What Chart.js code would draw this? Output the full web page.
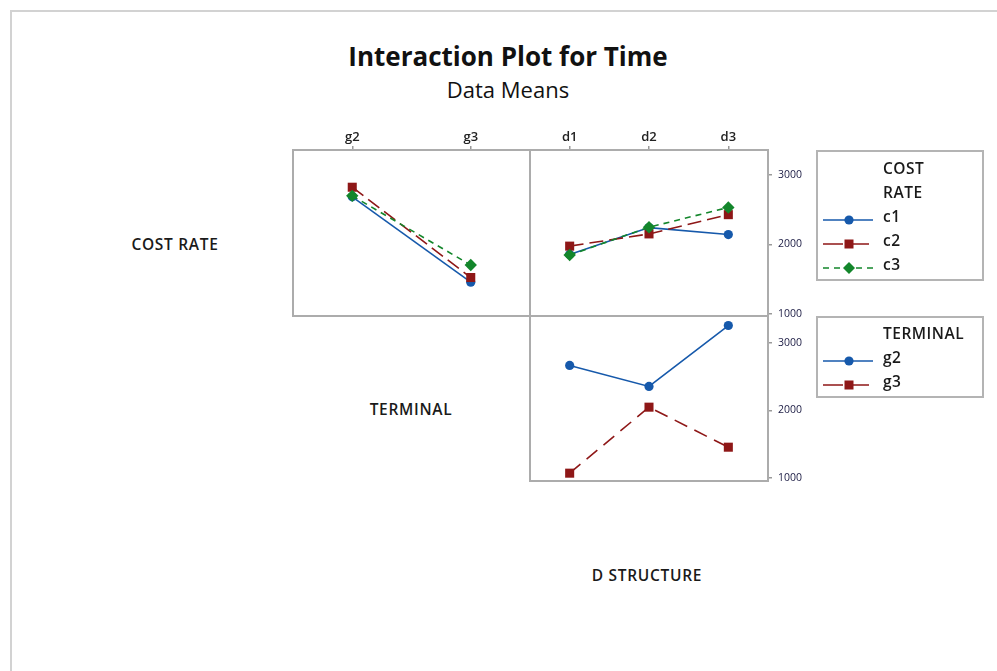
<!DOCTYPE html>
<html>
<head>
<meta charset="utf-8">
<script src="https://cdn.jsdelivr.net/npm/chart.js@4/dist/chart.umd.min.js"></script>
<style>
  html, body { margin:0; padding:0; background:#fff; }
  body { width:997px; height:671px; position:relative; overflow:hidden; font-family:"Open Sans","Noto Sans",sans-serif; color:#111; }
  .frameTop { position:absolute; left:10px; top:10px; width:987px; height:2px; background:#d2d2d2; }
  .frameLeft { position:absolute; left:10px; top:10px; width:2px; height:661px; background:#d2d2d2; }
  .lbl { position:absolute; white-space:nowrap; transform:translate(-50%,-50%); line-height:1; }
  .lftlbl { position:absolute; white-space:nowrap; transform:translateY(-50%); line-height:1; }
  .panel { position:absolute; }
  .legbox { position:absolute; border:2px solid #b4b4b4; box-sizing:border-box; }
  .sw { position:absolute; transform:translateY(-50%); }
  .row { font-size:15.5px; font-weight:600; letter-spacing:0.7px; color:#1a1a1a; }
</style>
</head>
<body>
<div class="frameTop"></div>
<div class="frameLeft"></div>

<div class="lbl" style="left:508px; top:56px; font-size:26px; font-weight:700;">Interaction Plot for Time</div>
<div class="lbl" style="left:508px; top:89px; font-size:22px;">Data Means</div>

<div class="lbl row" style="left:175px; top:245px;">COST RATE</div>
<div class="lbl row" style="left:411px; top:410px;">TERMINAL</div>
<div class="lbl row" style="left:647px; top:576px;">D STRUCTURE</div>

<div class="panel" id="p1wrap"><canvas id="p1"></canvas></div>
<div class="panel" id="p2wrap"><canvas id="p2"></canvas></div>
<div class="panel" id="p3wrap"><canvas id="p3"></canvas></div>

<div class="legbox" style="left:816px; top:150px; width:168px; height:131px;"></div>
<div class="legbox" style="left:816px; top:316px; width:168px; height:82px;"></div>
<div id="legends"></div>

<script>
// ---------- data ----------
const terminalLevels = ['g2', 'g3'];
const structureLevels = ['d1', 'd2', 'd3'];
const costRateLevels = ['c1', 'c2', 'c3'];

// mean Time for COST RATE x TERMINAL
const costByTerminalC1 = [2686, 1457];
const costByTerminalC2 = [2824, 1524];
const costByTerminalC3 = [2700, 1704];

// mean Time for COST RATE x D STRUCTURE
const costByStructureC1 = [1857, 2243, 2143];
const costByStructureC2 = [1976, 2152, 2429];
const costByStructureC3 = [1848, 2248, 2533];

// mean Time for TERMINAL x D STRUCTURE
const terminalByStructureG2 = [2667, 2356, 3259];
const terminalByStructureG3 = [1071, 2049, 1456];

const yTickValues = [1000, 2000, 3000];

// ---------- styles ----------
const BLUE = '#1659ab', RED = '#8e1717', GREEN = '#13862b';
const styleFor = {
  c1: { color: BLUE, dash: [], point: 'circle', r: 4.6, order: 2 },
  c2: { color: RED, dash: [14, 6], point: 'rect', r: 6.4, order: 1 },
  c3: { color: GREEN, dash: [6, 5], point: 'rectRot', r: 6.2, order: 0 },
  g2: { color: BLUE, dash: [], point: 'circle', r: 4.6, order: 1 },
  g3: { color: RED, dash: [14, 8], point: 'rect', r: 6.4, order: 0 }
};

function ds(name, values) {
  const s = styleFor[name];
  return {
    label: name, data: values, order: s.order,
    borderColor: s.color, backgroundColor: s.color, borderWidth: 1.6,
    borderDash: s.dash, pointStyle: s.point, pointRadius: s.r, pointHoverRadius: s.r,
    pointBorderWidth: 0, pointBackgroundColor: s.color, tension: 0, clip: 10
  };
}

const panelBorder = {
  id: 'panelBorder',
  beforeDatasetsDraw(chart) {
    const a = chart.chartArea, c = chart.ctx;
    c.save();
    c.strokeStyle = '#acacac';
    c.lineWidth = 2;
    c.strokeRect(a.left, a.top, a.right - a.left, a.bottom - a.top);
    c.restore();
  }
};

const PAD = 10, AX_TOP = 22, AX_RIGHT = 45;

function makePanel(id, L, T, R, B, cats, datasets, yMin, yMax, showTop, showRight) {
  const wrap = document.getElementById(id + 'wrap');
  const cv = document.getElementById(id);
  const top = showTop ? AX_TOP : 0;
  const right = showRight ? AX_RIGHT : 0;
  const w = (R - L) + 2 * PAD + right;
  const h = (B - T) + 2 * PAD + top;
  wrap.style.left = (L - PAD) + 'px';
  wrap.style.top = (T - PAD - top) + 'px';
  cv.width = w; cv.height = h;
  cv.style.width = w + 'px'; cv.style.height = h + 'px';
  return new Chart(cv, {
    type: 'line',
    data: { labels: cats, datasets: datasets },
    plugins: [panelBorder],
    options: {
      responsive: false, animation: false, devicePixelRatio: 1,
      layout: { padding: PAD },
      plugins: { legend: { display: false }, tooltip: { enabled: false } },
      scales: {
        x: {
          type: 'category', position: 'top', offset: true, display: showTop,
          grid: { offset: false, drawOnChartArea: false, drawTicks: true, tickLength: 4, color: '#9a9a9a', lineWidth: 1.5 },
          border: { display: false },
          ticks: { padding: 1, color: '#222', font: { family: 'Open Sans', size: 13, weight: '600' }, maxRotation: 0 },
          afterFit(s) { s.height = showTop ? AX_TOP : 0; s.paddingLeft = 0; s.paddingRight = 0; }
        },
        y: {
          type: 'linear', position: 'right', min: yMin, max: yMax, display: showRight,
          afterBuildTicks(s) { s.ticks = yTickValues.map(v => ({ value: v })); },
          grid: { drawOnChartArea: false, drawTicks: true, tickLength: 4, color: '#9a9a9a', lineWidth: 1.5 },
          border: { display: false },
          ticks: { padding: 6, color: '#1c1c44', font: { family: 'Open Sans', size: 10.5 }, callback: v => String(v) },
          afterFit(s) { s.width = showRight ? AX_RIGHT : 0; s.paddingTop = 0; s.paddingBottom = 0; }
        }
      }
    }
  });
}

makePanel('p1', 293, 150, 530, 316, terminalLevels,
  [ds('c1', costByTerminalC1), ds('c2', costByTerminalC2), ds('c3', costByTerminalC3)],
  970, 3360, true, false);
makePanel('p2', 530, 150, 768, 316, structureLevels,
  [ds('c1', costByStructureC1), ds('c2', costByStructureC2), ds('c3', costByStructureC3)],
  970, 3360, true, true);
makePanel('p3', 530, 316, 768, 481, structureLevels,
  [ds('g2', terminalByStructureG2), ds('g3', terminalByStructureG3)],
  955, 3400, false, true);

// ---------- legends ----------
function swatchSVG(name) {
  const s = styleFor[name];
  let dash = '';
  if (name === 'c3') dash = 'stroke-dasharray="6 5"';
  else if (s.dash.length) dash = 'stroke-dasharray="20 6"';
  let mark = '';
  if (s.point === 'circle') mark = `<circle cx="26" cy="7" r="4.6" fill="${s.color}"/>`;
  else if (s.point === 'rect') mark = `<rect x="21.5" y="2.5" width="9" height="9" fill="${s.color}"/>`;
  else mark = `<polygon points="26,1 32,7 26,13 20,7" fill="${s.color}"/>`;
  return `<svg width="52" height="14" viewBox="0 0 52 14"><line x1="0" y1="7" x2="50" y2="7" stroke="${s.color}" stroke-width="1.6" ${dash}/>${mark}</svg>`;
}
const legendHost = document.getElementById('legends');
function addText(txt, y) {
  const d = document.createElement('div');
  d.className = 'lftlbl';
  d.style.cssText = `left:883px; top:${y}px; font-size:15.5px; font-weight:600; letter-spacing:0.5px; color:#1a1a1a;`;
  d.textContent = txt;
  legendHost.appendChild(d);
}
function addEntry(name, y) {
  const d = document.createElement('div');
  d.className = 'sw';
  d.style.cssText = `left:823px; top:${y}px; height:14px;`;
  d.innerHTML = swatchSVG(name);
  legendHost.appendChild(d);
  addText(name, y);
}
addText('COST', 169);
addText('RATE', 193);
costRateLevels.forEach((n, i) => addEntry(n, 217 + i * 24));
addText('TERMINAL', 334);
terminalLevels.forEach((n, i) => addEntry(n, 358 + i * 24));
</script>
</body>
</html>
